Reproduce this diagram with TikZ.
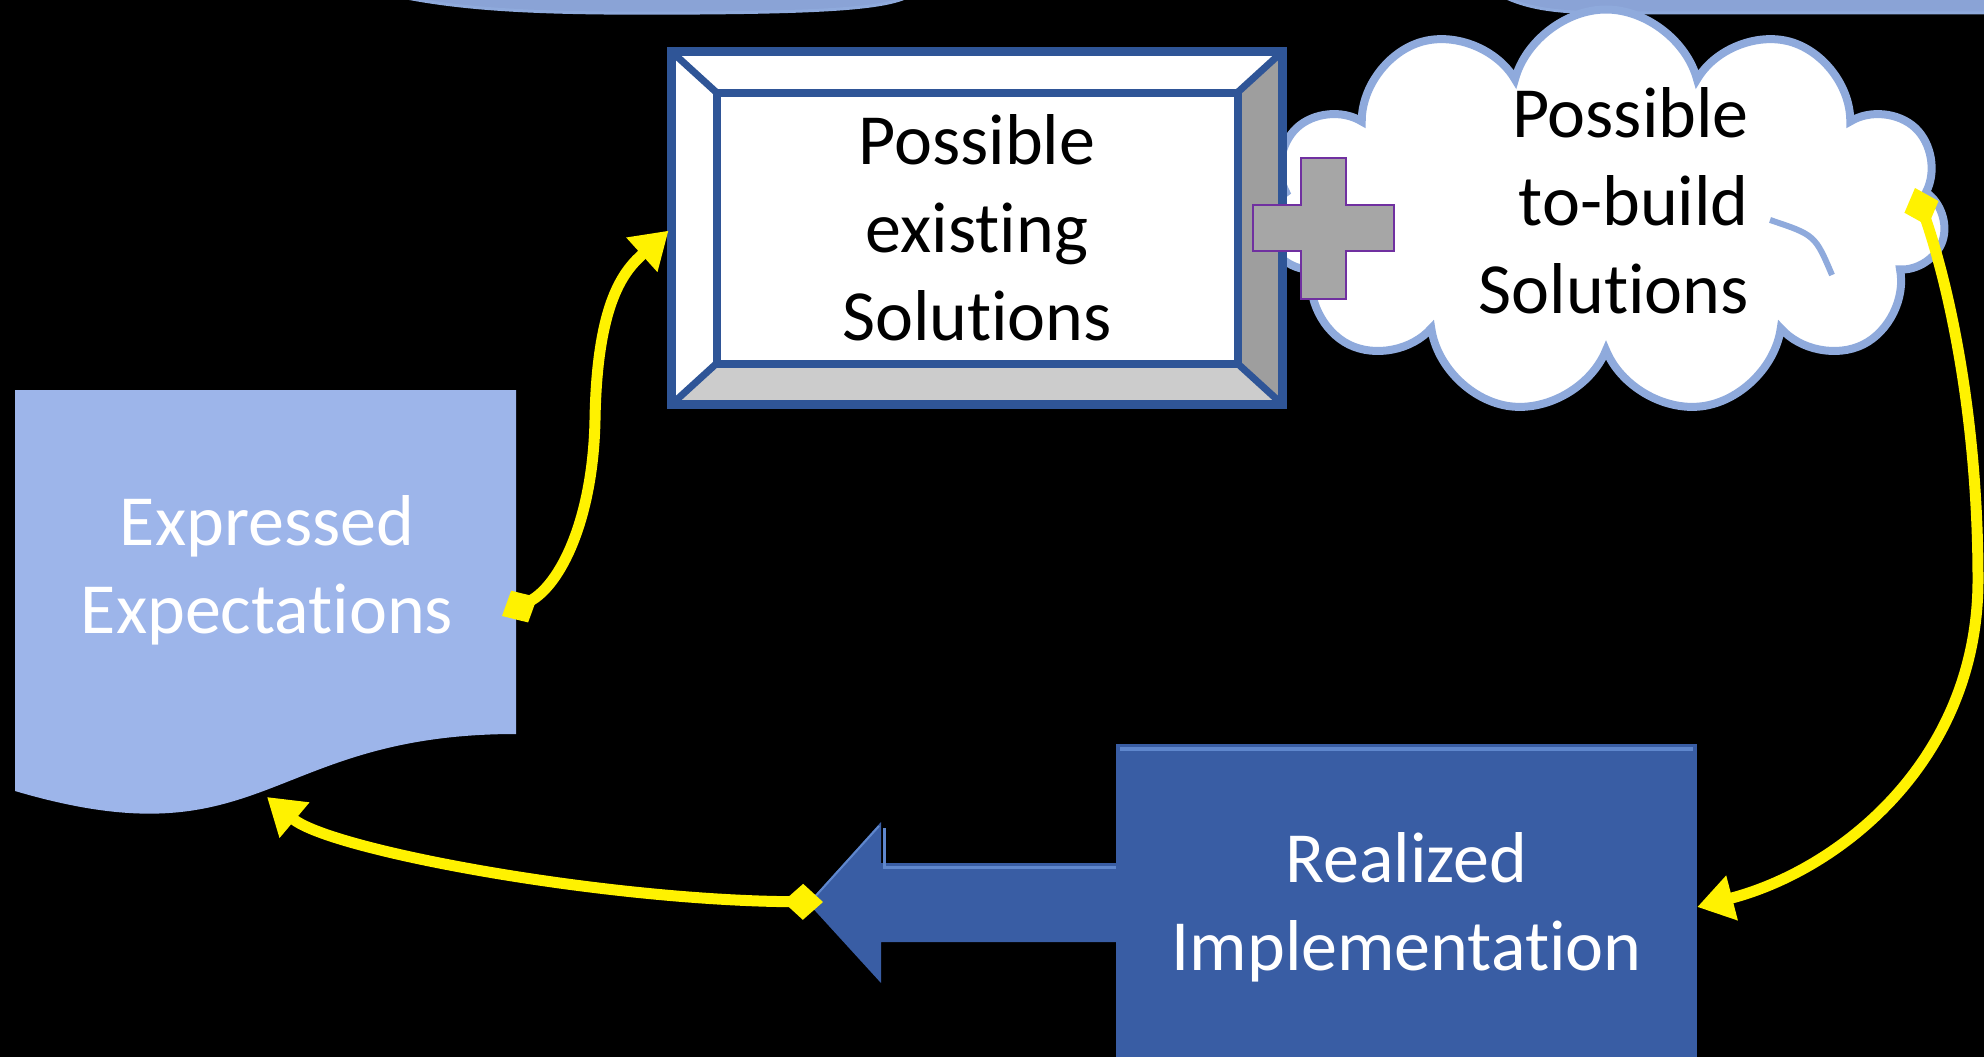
\documentclass[tikz,border=0pt]{standalone}
\usepackage{fontspec}
\setmainfont{Carlito}[Ligatures={NoCommon,NoRare,NoContextual}]
\usetikzlibrary{arrows.meta, positioning, shapes.symbols}
\definecolor{frameblue}{RGB}{47,85,151}
\definecolor{implblue}{RGB}{57,93,164}
\definecolor{impledge}{RGB}{95,135,205}
\definecolor{docblue}{RGB}{157,181,234}
\definecolor{cloudblue}{RGB}{143,170,220}
\definecolor{topblue}{RGB}{138,163,214}
\definecolor{plusgray}{RGB}{166,166,166}
\definecolor{plusviolet}{RGB}{112,48,160}
\definecolor{sidegray}{RGB}{158,158,158}
\definecolor{floorgray}{RGB}{204,204,204}
\tikzset{
        x=1pt, y=-1pt, % one unit is one pixel, y runs downward
        big text/.style={font=\fontsize{72}{88}\selectfont, align=center, inner sep=0pt}, % all labels
        bevel/.style={draw=frameblue, fill=white, outer sep=0pt, inner sep=0pt}, % the framed box
        puff line/.style={draw=cloudblue, line width=6pt}, % arc inside the cloud
        flow/.style={draw=yellow, line width=11pt, {Diamond[length=40pt,width=36pt]}-{Triangle[length=36pt,width=44pt]}}, % yellow connectors
    }
\begin{document}
\begin{tikzpicture}
    \fill[black] (0,0) rectangle (1984,1057);
    \useasboundingbox (0,0) rectangle (1984,1057);
    % shapes cut off at the top
    \filldraw[fill=topblue, draw=cloudblue, line width=3pt] (392,-5) .. controls (470,12) and (560,14) .. (700,13) .. controls (830,12) and (890,8) .. (911,-5) -- cycle;
    \filldraw[fill=topblue, draw=cloudblue, line width=3pt] (1500,-5) .. controls (1530,10) and (1560,13) .. (1620,13) -- (1990,13) -- (1990,-5) -- cycle;
    % cloud
    \node[cloud, cloud puffs=11, aspect=1.6, draw=cloudblue, line width=8pt, fill=white, minimum width=680pt, minimum height=405pt] (build) at (1606,212) {};
    \draw[puff line] (1770,220) .. controls (1815,235) .. (1832,275);
    \node[big text, align=right, anchor=east] (buildText) at (1749,201) {Possible\\to-build\\Solutions};
    % framed box
    \node[bevel, line width=9pt, minimum width=611pt, minimum height=353pt] (exist) at (977,228) {};
    \node[bevel, line width=8pt, minimum width=521pt, minimum height=271pt, big text] (existIn) at (exist) {Possible\\existing\\Solutions};
    \fill[sidegray] (exist.north east) -- (exist.south east) -- (existIn.south east) -- (existIn.north east) -- cycle;
    \fill[floorgray] (exist.south west) -- (exist.south east) -- (existIn.south east) -- (existIn.south west) -- cycle;
    \draw[frameblue, line width=9pt] (exist.north west) rectangle (exist.south east);
    \draw[frameblue, line width=8pt] (existIn.north west) rectangle (existIn.south east);
    \foreach \c in {north west, north east, south east, south west}
      \draw[frameblue, line width=7pt] (exist.\c) -- (existIn.\c);
    % plus
    \draw[plusviolet, fill=plusgray, line width=1.5pt] (1301,158) -- (1346,158) -- (1346,205) -- (1394,205) -- (1394,251) -- (1346,251) -- (1346,299) -- (1301,299) -- (1301,251) -- (1253,251) -- (1253,205) -- (1301,205) -- cycle;
    % document
    \fill[docblue] (15,390) -- (516,390) -- (516,734) .. controls (265.5,734) and (265.5,865) .. (15,791) -- cycle;
    \node[big text, text=white] (expect) at (267,570) {Expressed\\Expectations};
    \coordinate (expectOut) at (502,616);
    \coordinate (expectIn) at (267,797);
    % block arrow and implementation
    \fill[implblue] (1120,863) -- (881,863) -- (881,822) -- (808,903) -- (881,983) -- (881,942) -- (1120,942) -- cycle;
    \draw[impledge, line width=3pt] (1118,867) -- (884,867) -- (884,828);
    \draw[impledge, line width=2pt] (879,826) -- (812,900);
    \node[fill=implblue, minimum width=581pt, minimum height=326pt, big text, text=white] (implement) at (1406.5,907) {Realized\\Implementation};
    \draw[impledge, line width=4pt] (1120,749) -- (1693,749);
    \coordinate (buildOut) at (1915,188);
    \coordinate (retOut) at (823,902);
    % connectors
    \draw[flow, shorten >=4pt] (expectOut) .. controls (560,585) and (593,520) .. (595,420) .. controls (597,300) and (625,270) .. (exist.west);
    \draw[flow] (buildOut) .. controls (1950,290) and (1978,420) .. (1978,580) .. controls (1978,760) and (1840,870) .. (implement.east);
    \draw[flow] (retOut) .. controls (600,900) and (330,850) .. (expectIn);
\end{tikzpicture}
\end{document}
